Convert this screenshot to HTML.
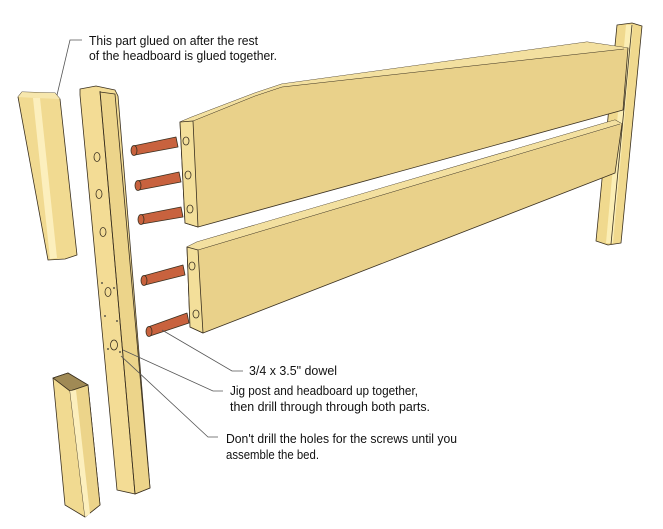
<!DOCTYPE html>
<html><head><meta charset="utf-8"><style>
html,body{margin:0;padding:0;background:#fff;}
svg{display:block;}
text{font-family:"Liberation Sans",sans-serif;font-size:12.5px;fill:#111;}
</style></head><body>
<svg width="663" height="529" viewBox="0 0 663 529" xmlns="http://www.w3.org/2000/svg">
<g stroke="#3a3020" stroke-width="0.8" stroke-linejoin="round">
<!-- right post -->
<polygon points="617,25 632,23 642,26 621,243 608,245 596,241" fill="#f0d98e"/>
<polygon points="626,25 633,25 613,243 606,243" fill="#fbeeb5" stroke="none"/>
<line x1="632" y1="25" x2="611" y2="244"/>
<!-- upper board -->
<polygon points="180,122 192,117 255,93 282,84 587,42 628,48 623,110 198,227 185,223" fill="#e9d18a"/>
<polygon points="180,122 192,117 255,93 282,84 587,42 628,48 624,49 282,87 255,96 193,121" fill="#f3e0a0" stroke="none"/>
<polyline points="193,121 255,96 282,87 624,49" fill="none" stroke-width="0.5"/>
<polygon points="180,122 193,121 198,227 185,223" fill="#f3df9a"/>
<!-- lower board -->
<polygon points="187,247 197,242 615,120 622,124 615,173 203,333 190,327" fill="#e9d18a"/>
<polygon points="187,247 197,242 615,120 622,124 198,250" fill="#f3e0a0" stroke="none"/>
<line x1="198" y1="250" x2="620" y2="124" stroke-width="0.5"/>
<polygon points="187,247 198,250 203,333 190,327" fill="#f3df9a"/>
<!-- board holes -->
<g fill="none" stroke-width="0.8">
<ellipse cx="186" cy="141" rx="3" ry="4"/><ellipse cx="188" cy="175" rx="3" ry="4"/><ellipse cx="190" cy="209" rx="3" ry="4"/>
<ellipse cx="192" cy="266" rx="3" ry="4"/><ellipse cx="196" cy="314" rx="3" ry="4"/>
</g>
<!-- dowels -->
<g fill="#c8623e">
<polygon points="133,146 176,137 178,147 135,155"/><ellipse cx="134" cy="150.5" rx="3" ry="5"/>
<polygon points="137,181 179,172 181,182 139,190"/><ellipse cx="138" cy="185.5" rx="3" ry="5"/>
<polygon points="140,215 181,207 183,217 142,224"/><ellipse cx="141" cy="219.5" rx="3" ry="5"/>
<polygon points="143,276 183,265 185,275 145,285"/><ellipse cx="144" cy="280.5" rx="3" ry="5"/>
<polygon points="148,327 187,313 189,323 150,336"/><ellipse cx="149" cy="331.5" rx="3" ry="5"/>
</g>
<!-- left glued piece -->
<polygon points="18,97 22,92 55,93 60,99 77,255 65,259 48,260" fill="#f1da91"/>
<polygon points="18,97 22,92 55,93 60,99 36,98" fill="#f7e7ad" stroke="none"/>
<polygon points="33,98 40,98 57,258 50,259" fill="#fcefbd" stroke="none"/>
<!-- main post -->
<polygon points="80,89 96,86 115,90 118,96 150,488 135,494 117,490 80,95" fill="#f3dc95"/>
<polygon points="100,92 115,94 150,488 135,494" fill="#ecd48a"/>
<line x1="100" y1="91" x2="135" y2="494"/>
<g fill="none">
<ellipse cx="97" cy="157" rx="3" ry="4.5"/><ellipse cx="99" cy="194" rx="3" ry="4.5"/><ellipse cx="103" cy="232" rx="3" ry="4.5"/>
<ellipse cx="108" cy="292" rx="3" ry="4.5"/><ellipse cx="114" cy="345" rx="3.5" ry="5"/>
</g>
<g fill="#333" stroke="none">
<circle cx="102" cy="283" r="0.9"/><circle cx="114" cy="288" r="0.9"/><circle cx="105" cy="316" r="0.9"/><circle cx="117" cy="321" r="0.9"/><circle cx="108" cy="349" r="0.9"/><circle cx="120" cy="352" r="0.9"/>
</g>
<!-- bottom piece -->
<polygon points="53,378 68,373 88,385 100,505 85,517 65,505" fill="#f1da91"/>
<polygon points="53,378 68,373 88,385 70,391" fill="#a08a55"/>
<polygon points="70,391 88,385 100,505 85,517" fill="#ecd48a"/>
<polygon points="70,391 76,390 90,514 85,517" fill="#fcefbd" stroke="none"/>
</g>
<!-- leaders -->
<g stroke="#555" stroke-width="0.8" fill="none">
<polyline points="57,95 70,40 82,40"/>
<polyline points="162,330 232,371 243,371"/>
<polyline points="123,350 213,391 223,391"/>
<polyline points="121,356 208,437 218,437"/>
</g>
<text x="89" y="45" textLength="169" lengthAdjust="spacingAndGlyphs">This part glued on after the rest</text>
<text x="89" y="60" textLength="188" lengthAdjust="spacingAndGlyphs">of the headboard is glued together.</text>
<text x="249" y="375" textLength="88" lengthAdjust="spacingAndGlyphs">3/4 x 3.5" dowel</text>
<text x="230" y="395" textLength="188" lengthAdjust="spacingAndGlyphs">Jig post and headboard up together,</text>
<text x="230" y="411" textLength="200" lengthAdjust="spacingAndGlyphs">then drill through through both parts.</text>
<text x="226" y="443" textLength="231" lengthAdjust="spacingAndGlyphs">Don't drill the holes for the screws until you</text>
<text x="226" y="459" textLength="93" lengthAdjust="spacingAndGlyphs">assemble the bed.</text>
</svg>
</body></html>
